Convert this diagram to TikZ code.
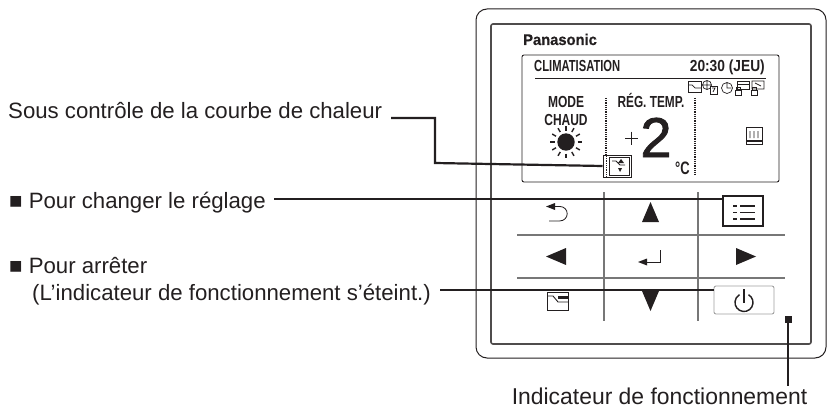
\documentclass[tikz,border=0pt]{standalone}
\usepackage{fontspec}
\setmainfont{Liberation Sans}
\newfontfamily\heavy[FakeBold=1.6]{Liberation Sans}
\newfontfamily\heavyb[FakeBold=0.6]{Liberation Sans Bold}
\newcommand{\fs}[1]{\fontsize{#1}{#1}\selectfont}
\definecolor{ink}{HTML}{231F20}
\definecolor{gridc}{HTML}{777777}
\tikzset{
  lbl/.style={anchor=base west,inner sep=0pt,text=ink,font=\fs{22.2}},
  scr/.style={inner sep=0pt,text=ink,font=\fs{16}\bfseries},
  leader/.style={draw=ink,line width=2.2pt},
  gridl/.style={draw=gridc,line width=1.2pt},
  tri/.style={fill=ink,draw=none},
  ico/.style={draw=ink,line width=0.7pt},
  keybox/.style={draw=ink,line width=1.1pt,fill=white,inner sep=0pt,minimum width=40pt,minimum height=30pt},
  pwrbox/.style={draw=gridc!70,line width=0.9pt,rounded corners=2pt,fill=white,inner sep=0pt,minimum width=60pt,minimum height=28pt},
  dots/.style={draw=ink,line width=1.6pt,dash pattern=on 1pt off 0.8pt},
}
\begin{document}
\begin{tikzpicture}[x=1pt,y=-1pt]
\useasboundingbox (0,0) rectangle (829,409);
% housing
\draw[ink,line width=1pt,rounded corners=11pt] (476,9) rectangle (826,358);
\draw[ink!80,line width=1.6pt,rounded corners=2pt] (491,24) rectangle (811,344);
% screen
\draw[ink,line width=0.9pt,rounded corners=2pt] (522,55) rectangle (779,182);
\node[anchor=base west,inner sep=0pt,text=ink,font=\fs{15.5}\heavyb] (brand) at (523,45) {\scalebox{0.95}[1]{Panasonic}};
\node[scr,anchor=base west] (title) at (534,72) {\scalebox{0.7}[1]{CLIMATISATION}};
\node[scr,anchor=base east] (clock) at (765,72) {\scalebox{0.86}[1]{20:30 (JEU)}};
\draw[ink,line width=0.9pt] (535,78) -- (766,78);
\node[scr,anchor=base] (mode) at (566,108) {\scalebox{0.75}[1]{MODE}};
\node[scr,anchor=base] (chaud) at (566,125) {\scalebox{0.75}[1]{CHAUD}};
\node[scr,anchor=base] (reg) at (651,108) {\scalebox{0.74}[1]{RÉG. TEMP.}};
\draw[dots] (606,98) -- (606,155);
\draw[dots] (695,98) -- (695,175);
% sun
\fill[ink] (566,142) circle (8.7);
\foreach \a in {0,30,...,330}
  \draw[ink,line width=1.4pt] (566,142) ++(\a:11.5) -- ++(\a:4.5);
% plus, digit, unit
\draw[ink,line width=0.8pt] (625,138) -- (638,138) (631.5,131.5) -- (631.5,144.5);
\node[anchor=base,inner sep=0pt,text=ink,font=\fs{56}\heavy] (digit) at (656,157) {2};
\node[anchor=base,inner sep=0pt,text=ink,font=\fs{18}\bfseries] (unit) at (682.5,174) {\scalebox{0.72}[1]{°C}};
% status icons
\draw[ico] (688,81) rectangle (701,92);
\draw[ico] (688,85) -- (692,85) -- (695,88) -- (701,88);
\draw[ico] (707,85) circle (4.5) (702.5,85) -- (711.5,85) (707,80.5) -- (707,89.5);
\draw[ico,fill=white] (710,86) rectangle (717,94);
\draw[ico] (712,88) -- (715,88) -- (713,92);
\draw[ico] (727,88) circle (5.5) (727,83) -- (727,88) -- (731,88);
\draw[ico] (737,81) rectangle (749,89) (737,84) -- (749,84);
\draw[ico] (735,90) rectangle (741,95) (736,90) -- (736,87.5) -- (740,87.5) -- (740,90);
\draw[ico] (752,81) rectangle (764,89) (755,83) -- (761,86);
\draw[ico] (751,90) rectangle (757,95) (752,90) -- (752,87.5) -- (756,87.5) -- (756,90);
% heater icon
\draw[ink,line width=1pt] (746,127) rectangle (762,144);
\draw[ink,line width=1.3pt] (746.5,141) -- (761.5,141);
\foreach \x in {750,754,758}
  \draw[ink,line width=0.8pt] (\x,131) .. controls (\x+1.5,133) and (\x-1.5,135) .. (\x,138);
% curve icon with its leader target
\node[draw=ink,line width=1pt,fill=white,inner sep=0pt,minimum width=28pt,minimum height=22pt] (curve) at (617,166) {};
\draw[ink,line width=0.9pt] (609,157.5) rectangle (629,175);
\draw[dots,line width=1pt] (606,156) -- (606,176);
\draw[ink,line width=0.9pt] (612,161) -- (616,161) -- (620,165) -- (625,165);
\fill[ink] (621,159) -- (618,163) -- (624,163) -- cycle;
\fill[ink] (620,172) -- (618,168) -- (622,168) -- cycle;
% keypad grid
\draw[gridl] (604,192) -- (604,321);
\draw[gridl] (698,192) -- (698,321);
\draw[gridl] (517,235) -- (785,235);
\draw[gridl] (517,278) -- (785,278);
% labels
\node[lbl] (sous) at (8,118) {Sous contrôle de la courbe de chaleur};
\node[lbl] (chg) at (9,208) {■ Pour changer le réglage};
\node[lbl] (stop) at (9,273) {■ Pour arrêter};
\node[lbl] (stopb) at (32,300) {(L’indicateur de fonctionnement s’éteint.)};
\node[lbl,anchor=base,font=\fs{22.9}] (ind) at (659.5,404) {Indicateur de fonctionnement};
% keys
\node[keybox] (menu) at (743,211) {};
\node[pwrbox] (power) at (744,300) {};
\coordinate (a1) at (391,118);
\coordinate (a2) at (274,199);
\coordinate (a3) at (440,290);
\coordinate (a4) at (788,386);
\node[fill=ink,inner sep=0pt,minimum size=7pt] (led) at (788,319) {};
% leaders
\draw[leader] (a1) -| (435,163) -- (curve.west);
\draw[leader] (a2) -- (a2 -| menu.west);
\draw[leader] (a3) -- (a3 -| power.west);
\draw[leader] (led) -- (a4);
% menu glyph
\foreach \y in {206,212.5,219}{
  \draw[ink,line width=1.6pt] (733,\y) -- (737,\y);
  \draw[ink,line width=1.6pt] (740,\y) -- (755,\y);
}
% power glyph
\draw[ink,line width=1.4pt] (748.5,294.7) arc[start angle=-60,end angle=240,radius=9];
\draw[ink,line width=1.7pt] (744,289) -- (744,303);
% arrows
\fill[tri] (642,222) -- (659,222) -- (650.5,202) -- cycle;
\fill[tri] (642,291) -- (659,291) -- (650.5,311) -- cycle;
\fill[tri] (546,256.5) -- (566,248) -- (566,265) -- cycle;
\fill[tri] (756,256.5) -- (736,248) -- (736,265) -- cycle;
% back key
\draw[ink,line width=0.8pt] (552,206.5) -- (560,206.5) arc[start angle=-90,end angle=90,radius=7.2] -- (549,220.9);
\fill[ink] (546,206.5) -- (555,203) -- (555,210) -- cycle;
% enter key
\draw[ink,line width=0.8pt] (660.5,250) -- (660.5,262) -- (642,262);
\fill[ink] (638,262) -- (647,258.5) -- (647,265.5) -- cycle;
% trend key
\draw[ink,line width=0.9pt] (547.5,292) rectangle (568,310);
\draw[ink,line width=0.9pt] (548,296) -- (553,296) -- (558,302) -- (568,302);
\fill[ink] (558,296) rectangle (568,299);
\end{tikzpicture}
\end{document}
